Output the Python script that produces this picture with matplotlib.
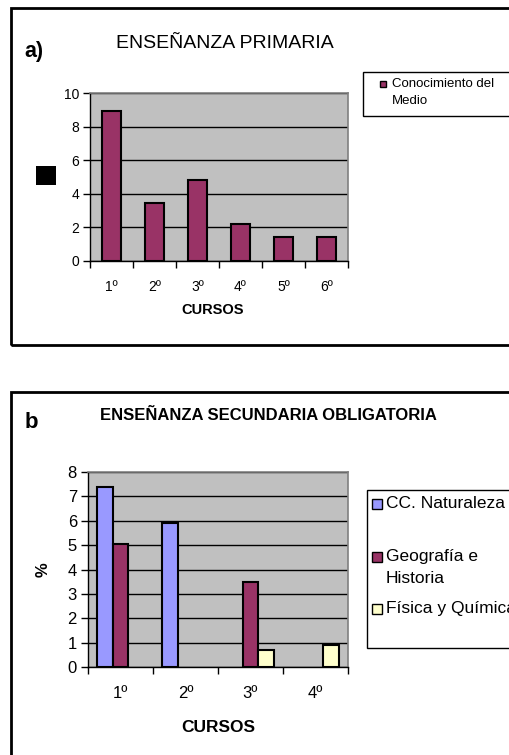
import numpy as np
import matplotlib.pyplot as plt
from matplotlib.patches import Rectangle

plt.rcParams['font.family'] = ['Liberation Sans', 'DejaVu Sans']

# a) Enseñanza primaria
cursos_prim = ['1º', '2º', '3º', '4º', '5º', '6º']
medio = [8.9, 3.45, 4.8, 2.2, 1.45, 1.45]
serie_prim = 'Conocimiento del\nMedio'

# b) Enseñanza secundaria obligatoria
cursos_eso = ['1º', '2º', '3º', '4º']
naturaleza = [7.4, 5.9, 0, 0]
geografia = [5.05, 0, 3.5, 0]
fisica = [0, 0, 0.7, 0.9]
series_eso = ['CC. Naturaleza', 'Geografía e\nHistoria', 'Física y Química']

W, H = 510, 755
fig = plt.figure(figsize=(W / 100, H / 100), dpi=100)


def px_axes(left, top, right, bottom):
    return fig.add_axes([left / W, 1 - bottom / H, (right - left) / W, (bottom - top) / H])


def fx(x):
    return x / W


def fy(y):
    return 1 - y / H


def style_axes(ax, n, ymax, step, fs):
    ax.set_facecolor('#c0c0c0')
    ax.set_xlim(-0.5, n - 0.5)
    ax.set_ylim(0, ymax)
    ax.set_yticks(np.arange(0, ymax + 0.01, step))
    ax.yaxis.grid(True, color='black', linewidth=1)
    ax.set_axisbelow(True)
    ax.set_xticks(np.arange(n + 1) - 0.5)
    ax.set_xticklabels([])
    ax.set_xticks(np.arange(n), minor=True)
    ax.tick_params(axis='x', which='major', length=5, direction='out', width=1)
    ax.tick_params(axis='x', which='minor', length=0, pad=14, labelsize=fs)
    ax.tick_params(axis='y', length=5, width=1, labelsize=fs, pad=3)
    for s in ('top', 'right'):
        ax.spines[s].set_color('#808080')
        ax.spines[s].set_linewidth(1.2)
    for s in ('left', 'bottom'):
        ax.spines[s].set_color('black')
        ax.spines[s].set_linewidth(1)


def frame(left, top, right, bottom):
    fig.patches.append(Rectangle((fx(left), fy(bottom)), fx(right - left), (bottom - top) / H,
                                 transform=fig.transFigure, fill=False,
                                 edgecolor='black', linewidth=2))


def legend_box(left, top, right, bottom):
    fig.patches.append(Rectangle((fx(left), fy(bottom)), fx(right - left), (bottom - top) / H,
                                 transform=fig.transFigure, facecolor='white',
                                 edgecolor='black', linewidth=1))


def legend_item(x, top, size, color, label, fs, ls):
    # square is centred on the cap height of the first text line
    cy = top + 8
    fig.patches.append(Rectangle((fx(x), fy(cy + size / 2)), size / W, size / H,
                                 transform=fig.transFigure, facecolor=color,
                                 edgecolor='black', linewidth=1))
    fig.text(fx(x + size + 4), fy(top), label, fontsize=fs, va='top', ha='left',
             linespacing=ls)


# ---------- panel a ----------
frame(11, 8, 520, 345)
ax1 = px_axes(90, 93, 348, 261)
style_axes(ax1, len(cursos_prim), 10, 2, 10)
ax1.set_xticklabels(cursos_prim, minor=True)
ax1.bar(np.arange(len(cursos_prim)), medio, width=0.42, color='#993366',
        edgecolor='black', linewidth=1.5, zorder=3)
fig.text(fx(213), fy(310), 'CURSOS', fontsize=10.5, fontweight='bold', ha='center', va='center')
fig.text(fx(24), fy(51), 'a)', fontsize=15.5, fontweight='bold', ha='left', va='center')
fig.text(fx(225), fy(43), 'ENSEÑANZA PRIMARIA', fontsize=14, ha='center', va='center')
fig.patches.append(Rectangle((fx(36), fy(185)), fx(20), 19 / H, transform=fig.transFigure,
                             facecolor='black', edgecolor='none'))
legend_box(363, 72, 530, 116)
fig.patches.append(Rectangle((fx(380), fy(87)), 6 / W, 6 / H, transform=fig.transFigure,
                             facecolor='#993366', edgecolor='black', linewidth=1))
fig.text(fx(392), fy(78), serie_prim, fontsize=9.5, va='top', ha='left', linespacing=1.5)

# ---------- panel b ----------
frame(11, 392, 520, 770)
ax2 = px_axes(88, 472, 348, 667)
style_axes(ax2, len(cursos_eso), 8, 1, 12)
ax2.set_xticklabels(cursos_eso, minor=True)
x = np.arange(len(cursos_eso))
bw = 0.24
colors = ['#9999ff', '#993366', '#ffffcc']
for i, (vals, c) in enumerate(zip([naturaleza, geografia, fisica], colors)):
    v = np.array(vals, dtype=float)
    v[v == 0] = np.nan
    ax2.bar(x + (i - 1) * bw, v, width=bw, color=c, edgecolor='black',
            linewidth=1.5, zorder=3)
fig.text(fx(218), fy(727), 'CURSOS', fontsize=12.5, fontweight='bold', ha='center', va='center')
fig.text(fx(43), fy(570), '%', fontsize=12, fontweight='bold', rotation=90,
         ha='center', va='center')
fig.text(fx(25), fy(423), 'b', fontsize=16, fontweight='bold', ha='left', va='center')
fig.text(fx(268), fy(415), 'ENSEÑANZA SECUNDARIA OBLIGATORIA', fontsize=12,
         fontweight='bold', ha='center', va='center')
legend_box(367, 490, 530, 648)
for label, c, top in zip(series_eso, colors, [496, 549, 601]):
    legend_item(372, top, 10, c, label, 12.5, 1.55)

fig.savefig('out.png', dpi=100)
